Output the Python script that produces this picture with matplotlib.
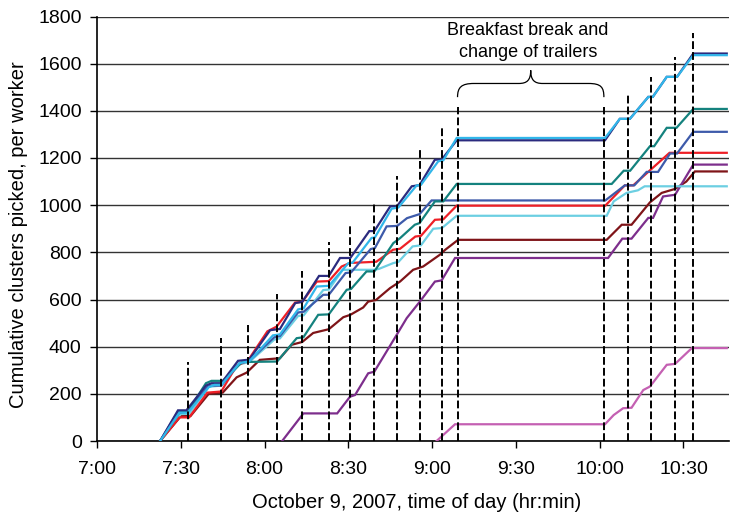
import matplotlib
matplotlib.use("Agg")
import matplotlib.pyplot as plt
from matplotlib.path import Path
from matplotlib.patches import PathPatch

plt.rcParams['font.family'] = ['Liberation Sans', 'DejaVu Sans']

# time axis: minutes after 7:00
tick_minutes = [0, 30, 60, 90, 120, 150, 180, 210]
tick_labels = ["7:00", "7:30", "8:00", "8:30", "9:00", "9:30", "10:00", "10:30"]

# trailer change moments (dashed lines) and how high each line is drawn
trailer_t = [32.5, 44.3, 54.2, 64.6, 73.5, 83.0, 90.7, 99.3, 107.4, 115.5,
             123.4, 129.3, 181.6, 190.1, 198.2, 206.8, 213.5]
trailer_top = [336, 436, 492, 625, 722, 845, 917, 1015, 1122, 1245,
               1333, 1415, 1415, 1475, 1544, 1629, 1730]

# cumulative clusters per worker
navy_t = [22.6, 29, 32, 39, 41, 44.5, 50.5, 54.5, 62, 65.5, 71, 73.5, 79.5, 83, 87, 90.7,
          97.5, 99.3, 105, 107.4, 112.7, 115.5, 121, 123.4, 128.8, 181.9, 187.2, 190.8,
          197.4, 199, 204, 207.7, 213.5, 225.5]
navy_v = [0, 130, 130, 235, 245, 245, 340, 345, 470, 475, 585, 590, 700, 700, 776, 776,
          890, 890, 995, 995, 1080, 1085, 1193, 1193, 1275, 1275, 1366, 1366,
          1459, 1459, 1544, 1544, 1643, 1643]

lightblue_t = [22.6, 29.5, 32.5, 40, 42, 44.5, 51, 54.5, 63, 65.5, 72, 74, 78.7, 83, 90, 91.5,
               98.3, 99.5, 105.5, 107.9, 114.4, 116, 122.2, 124, 128.8, 181.9, 187.2, 190.8,
               197.4, 199, 204, 207.7, 213.5, 225.5]
lightblue_v = [0, 120, 120, 228, 238, 238, 330, 338, 448, 452, 558, 563, 655, 658, 754, 756,
               861, 863, 985, 990, 1083, 1086, 1186, 1190, 1285, 1285, 1366, 1366,
               1459, 1459, 1544, 1544, 1636, 1636]

teal_t = [22.6, 29.5, 32.5, 39, 41, 45, 52, 64.5, 71.5, 73.9, 79.2, 83, 89.4, 91,
          96.5, 99.3, 106.1, 108.5, 113.8, 115.5, 121, 124, 128.8, 184.3, 188.6, 190.9,
          198, 199.5, 204, 207.5, 213.5, 225.5]
teal_v = [0, 120, 125, 245, 255, 255, 335, 337, 436, 440, 535, 537, 641, 645,
          719, 719, 839, 860, 917, 924, 1016, 1016, 1090, 1090, 1146, 1146,
          1250, 1250, 1328, 1328, 1408, 1408]

midblue_t = [22.6, 29, 32.5, 39.5, 41, 44.5, 51, 54.5, 63.5, 65.5, 72, 74, 81, 83, 89, 91,
             98, 99.5, 103.7, 107.5, 111, 115.5, 119.8, 182, 189, 192.4, 196.8, 200.9,
             205.2, 207.7, 213.5, 225.5]
midblue_v = [0, 125, 125, 230, 235, 235, 330, 340, 440, 445, 545, 548, 620, 620, 712, 715,
             814, 818, 910, 912, 945, 962, 1020, 1020, 1084, 1084, 1141, 1141,
             1219, 1219, 1311, 1311]

red_t = [22.6, 29.5, 33, 39.5, 44.5, 50, 54, 61, 64.3, 70.9, 73.5, 78.7, 83, 87.6, 90.6,
         100, 106, 108.5, 114, 116, 121, 124, 128.8, 182, 189, 192, 205, 225.5]
red_v = [0, 100, 100, 205, 210, 320, 340, 465, 485, 587, 590, 676, 678, 740, 755,
         760, 811, 815, 867, 870, 938, 940, 998, 998, 1084, 1084, 1222, 1222]

cyan_t = [22.6, 30, 33, 40, 44.5, 51, 54.5, 63.5, 65.5, 72, 74, 81, 83, 88, 99.3, 101,
          106, 108, 113, 116, 120.4, 123.5, 128.8, 182.5, 185, 189.6, 193.7, 196.1, 225.5]
cyan_v = [0, 115, 115, 230, 235, 325, 335, 430, 435, 530, 533, 640, 642, 726, 726, 730,
          754, 760, 825, 830, 900, 903, 955, 955, 1016, 1052, 1063, 1080, 1080]

maroon_t = [22.6, 30, 33.5, 40, 45, 50, 53.6, 58.3, 65.5, 69.7, 73.5, 77.4, 83, 88.2, 90.7,
            95.3, 97.1, 99.9, 104.9, 108.5, 113.2, 116.8, 122.8, 124.6, 129.3, 182.5,
            187.9, 191.4, 198, 202.2, 207, 211, 214.1, 225.5]
maroon_v = [0, 105, 106, 200, 205, 270, 290, 344, 351, 408, 420, 458, 474, 525, 535,
            566, 591, 598, 648, 676, 726, 740, 790, 810, 853, 853,
            917, 917, 1012, 1052, 1069, 1100, 1143, 1143]

purple_t = [66.3, 73.9, 86, 90.6, 92.4, 97.1, 99.3, 107.3, 110.9, 115.6, 121, 123.4, 128.2,
            183, 188.1, 191.4, 197.4, 199.1, 202.7, 207, 213.5, 225.5]
purple_v = [0, 117, 117, 188, 195, 287, 294, 450, 521, 591, 676, 681, 776,
            776, 858, 858, 946, 946, 1037, 1044, 1172, 1172]

orchid_t = [121.6, 128.2, 181.9, 185, 188.4, 191.4, 195.6, 198, 204, 207, 213, 225.5]
orchid_v = [0, 71, 71, 110, 139, 141, 216, 231, 323, 327, 394, 394]

series = [
    (maroon_t, maroon_v, '#7f1418'),
    (purple_t, purple_v, '#7d2e8c'),
    (orchid_t, orchid_v, '#c460b2'),
    (cyan_t, cyan_v, '#6ccfe2'),
    (red_t, red_v, '#ee1f26'),
    (midblue_t, midblue_v, '#3d5aaa'),
    (teal_t, teal_v, '#14827e'),
    (navy_t, navy_v, '#2b2b7e'),
    (lightblue_t, lightblue_v, '#31b6ea'),
]

fig = plt.figure(figsize=(7.31, 5.19), dpi=100)
ax = fig.add_axes([97 / 731, 78 / 519, 632 / 731, 424.5 / 519])

for t, v, c in series:
    ax.plot(t, v, color=c, lw=1.6, solid_joinstyle='miter', zorder=3)

for t, top in zip(trailer_t, trailer_top):
    ax.plot([t, t], [0, top], color='black', lw=1.4, ls=(0, (4, 1.6)), zorder=4)

# curly brace over the break
verts = [(129.1, 1458), (129.1, 1500), (130.5, 1516), (135, 1516),
         (151, 1516),
         (154, 1516), (155.3, 1530), (155.3, 1572),
         (155.3, 1530), (156.6, 1516), (159.6, 1516),
         (176, 1516),
         (180.5, 1516), (181.5, 1500), (181.5, 1458)]
codes = [Path.MOVETO, Path.CURVE4, Path.CURVE4, Path.CURVE4,
         Path.LINETO,
         Path.CURVE4, Path.CURVE4, Path.CURVE4,
         Path.CURVE4, Path.CURVE4, Path.CURVE4,
         Path.LINETO,
         Path.CURVE4, Path.CURVE4, Path.CURVE4]
ax.add_patch(PathPatch(Path(verts, codes), fill=False, color='black', lw=0.9, zorder=4))
ax.text(154.3, 1694, "Breakfast break and\nchange of trailers", ha='center', va='center',
        fontsize=13, linespacing=1.4)

ax.set_xlim(0, 226.3)
ax.set_ylim(0, 1800)
ax.set_yticks(range(0, 1801, 200))
ax.set_xticks(tick_minutes)
ax.set_xticklabels(tick_labels)
ax.yaxis.grid(True, color='#333333', lw=1.0)
ax.set_axisbelow(True)
for s in ['top', 'right']:
    ax.spines[s].set_visible(False)
for s in ['left', 'bottom']:
    ax.spines[s].set_linewidth(1.2)
ax.tick_params(axis='x', direction='out', length=5, width=1, pad=9.5, labelsize=14)
ax.tick_params(axis='y', direction='out', length=5, width=1, pad=6, labelsize=14)

fig.text(18.5 / 731, 1 - 235 / 519, "Cumulative clusters picked, per worker",
         rotation=90, ha='center', va='center', fontsize=14.5)
fig.text(416.7 / 731, 1 - 508 / 519, "October 9, 2007, time of day (hr:min)",
         ha='center', va='baseline', fontsize=14.5)

fig.savefig("out.png", dpi=100)
